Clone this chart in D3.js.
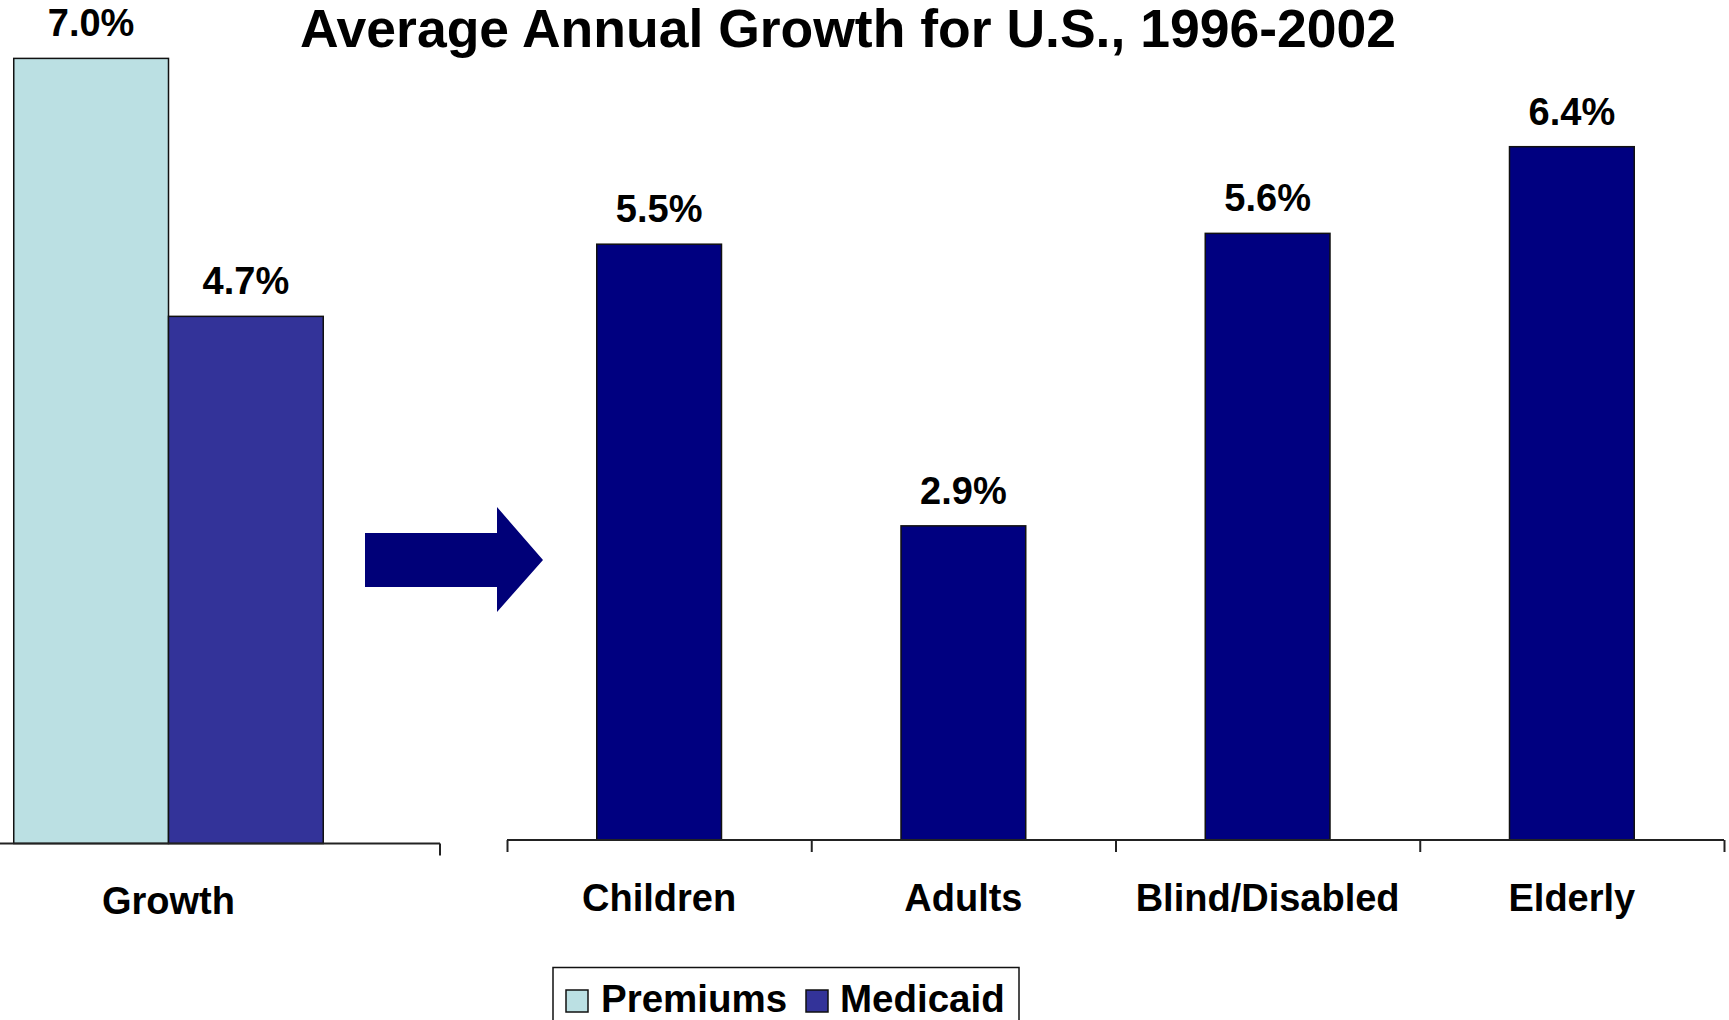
<!DOCTYPE html>
<html>
<head>
<meta charset="utf-8">
<title>Average Annual Growth for U.S., 1996-2002</title>
<script src="https://cdn.jsdelivr.net/npm/d3@7"></script>
<style>
  html, body { margin: 0; padding: 0; background: #fff; overflow: hidden; }
  svg { display: block; }
  text { font-family: "Liberation Sans", Arial, Helvetica, sans-serif; font-weight: bold; fill: #000; }
</style>
</head>
<body>
<script>
// Left panel: overall growth, premiums vs. Medicaid
const growthGroups = ["Growth"];
const growthSeries = ["Premiums", "Medicaid"];
const growthValues = [7.0, 4.7];

// Right panel: Medicaid growth by eligibility group
const groupCategories = ["Children", "Adults", "Blind/Disabled", "Elderly"];
const groupValues = [5.5, 2.9, 5.6, 6.4];

const seriesColors = { Premiums: "#BBE0E3", Medicaid: "#333399" };
const groupColor = "#000080";

const W = 1729, H = 1020;
const svg = d3.select("body").append("svg").attr("width", W).attr("height", H);

const fmt = v => v.toFixed(1) + "%";
const labelFont = 38;

// Title
svg.append("text")
  .attr("x", 848).attr("y", 47)
  .attr("text-anchor", "middle")
  .style("font-size", "53.5px")
  .text("Average Annual Growth for U.S., 1996-2002");

// ---- Left panel ----
const leftBase = 843.5;
const xL = d3.scaleBand().domain(growthGroups).range([-103, 440]);
const yL = d3.scaleLinear().domain([0, 7.0]).range([leftBase, 58.4]);
const groupW = xL.bandwidth() * 0.57;
const xL1 = d3.scaleBand().domain(growthSeries)
  .range([xL("Growth") + (xL.bandwidth() - groupW) / 2, xL("Growth") + (xL.bandwidth() + groupW) / 2]);

const leftData = growthSeries.map((s, i) => ({ s, v: growthValues[i] }));

svg.append("g").selectAll("rect").data(leftData).join("rect")
  .attr("x", d => xL1(d.s))
  .attr("y", d => yL(d.v))
  .attr("width", xL1.bandwidth())
  .attr("height", d => yL(0) - yL(d.v))
  .attr("fill", d => seriesColors[d.s])
  .attr("stroke", "#111")
  .attr("stroke-width", 1.5);

svg.append("g").selectAll("text").data(leftData).join("text")
  .attr("x", d => xL1(d.s) + xL1.bandwidth() / 2)
  .attr("y", d => yL(d.v) - 22)
  .attr("text-anchor", "middle")
  .style("font-size", labelFont + "px")
  .text(d => fmt(d.v));

// Left axis with tick at band boundary
const leftAxis = svg.append("g").attr("stroke", "#222").attr("stroke-width", 2).attr("fill", "none");
const l1 = xL.range()[1];
leftAxis.append("line").attr("x1", 0).attr("x2", l1).attr("y1", leftBase).attr("y2", leftBase);
leftAxis.append("line").attr("x1", l1).attr("x2", l1).attr("y1", leftBase).attr("y2", leftBase + 12);

svg.append("text")
  .attr("x", xL("Growth") + xL.bandwidth() / 2)
  .attr("y", leftBase + 70)
  .attr("text-anchor", "middle")
  .style("font-size", labelFont + "px")
  .text("Growth");

// ---- Arrow linking the panels ----
const arrow = d3.path();
arrow.moveTo(365, 533);
arrow.lineTo(497, 533);
arrow.lineTo(497, 507);
arrow.lineTo(543, 560);
arrow.lineTo(497, 612);
arrow.lineTo(497, 587);
arrow.lineTo(365, 587);
arrow.closePath();
svg.append("path").attr("d", arrow.toString()).attr("fill", "#000078");

// ---- Right panel ----
const rightBase = 840;
const xR = d3.scaleBand().domain(groupCategories).range([507, 1724]);
const yR = d3.scaleLinear().domain([0, 6.4]).range([rightBase, 146.7]);
const barW = xR.bandwidth() * 0.41;

const rightData = groupCategories.map((c, i) => ({ c, v: groupValues[i] }));

svg.append("g").selectAll("rect").data(rightData).join("rect")
  .attr("x", d => xR(d.c) + (xR.bandwidth() - barW) / 2)
  .attr("y", d => yR(d.v))
  .attr("width", barW)
  .attr("height", d => yR(0) - yR(d.v))
  .attr("fill", groupColor)
  .attr("stroke", "#111")
  .attr("stroke-width", 1.5);

svg.append("g").selectAll("text").data(rightData).join("text")
  .attr("x", d => xR(d.c) + xR.bandwidth() / 2)
  .attr("y", d => yR(d.v) - 22)
  .attr("text-anchor", "middle")
  .style("font-size", labelFont + "px")
  .text(d => fmt(d.v));

// Category axis: ticks sit on band boundaries
const rAxis = d3.axisBottom(d3.scaleLinear().domain([0, groupCategories.length]).range(xR.range()))
  .ticks(groupCategories.length).tickSize(12).tickFormat("");
const rAxisG = svg.append("g").attr("transform", `translate(0,${rightBase})`).call(rAxis);
rAxisG.select(".domain").attr("stroke", "#222").attr("stroke-width", 2).attr("d", `M${xR.range()[0]},0H${xR.range()[1]}`);
rAxisG.selectAll(".tick line").attr("stroke", "#222").attr("stroke-width", 2);

svg.append("g").selectAll("text").data(groupCategories).join("text")
  .attr("x", d => xR(d) + xR.bandwidth() / 2)
  .attr("y", rightBase + 71)
  .attr("text-anchor", "middle")
  .style("font-size", labelFont + "px")
  .text(d => d);

// ---- Legend ----
const legend = svg.append("g");
legend.append("rect")
  .attr("x", 553).attr("y", 967.5).attr("width", 466).attr("height", 70)
  .attr("fill", "#fff").attr("stroke", "#111").attr("stroke-width", 1.5);
const legendItems = [
  { s: "Premiums", sx: 566, tx: 601 },
  { s: "Medicaid", sx: 806, tx: 840 }
];
legend.selectAll("rect.sw").data(legendItems).join("rect")
  .attr("class", "sw")
  .attr("x", d => d.sx).attr("y", 990)
  .attr("width", 22).attr("height", 22)
  .attr("fill", d => seriesColors[d.s])
  .attr("stroke", "#111").attr("stroke-width", 1.5);
legend.selectAll("text").data(legendItems).join("text")
  .attr("x", d => d.tx).attr("y", 1012)
  .style("font-size", "38.5px")
  .text(d => d.s);
</script>
</body>
</html>
